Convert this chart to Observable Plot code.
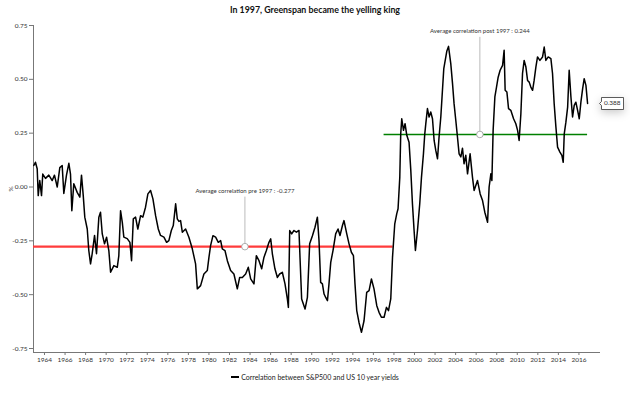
<!DOCTYPE html>
<html><head><meta charset="utf-8">
<script src="https://cdn.jsdelivr.net/npm/d3@7"></script>
<script src="https://cdn.jsdelivr.net/npm/@observablehq/plot@0.6"></script>
<style>
body{margin:0;background:#fff;font-family:Lato,"Noto Sans",sans-serif;}
#title{height:20px;line-height:20px;text-align:center;font-weight:bold;font-size:8.8px;color:#111;}
#chart{height:346px;}
#legend{height:22px;line-height:22px;text-align:center;font-size:7px;color:#222;}
#legend .sw{display:inline-block;width:8px;height:1.5px;background:#000;vertical-align:middle;margin-right:2px;position:relative;top:-1px;}
</style></head><body>
<div id="title">In 1997, Greenspan became the yelling king</div>
<div id="chart"></div>
<div id="legend"><span class="sw"></span>Correlation between S&amp;P500 and US 10 year yields</div>
<script>
const years = [1962.96,1963.12,1963.29,1963.39,1963.54,1963.71,1963.83,1964.10,1964.42,1964.75,1964.97,1965.24,1965.49,1965.72,1965.88,1966.14,1966.37,1966.53,1966.66,1966.85,1967.18,1967.44,1967.60,1967.77,1967.92,1968.16,1968.31,1968.48,1968.64,1968.87,1969.06,1969.29,1969.45,1969.62,1969.84,1970.04,1970.26,1970.43,1970.75,1971.08,1971.23,1971.40,1971.57,1971.72,1972.05,1972.31,1972.47,1972.64,1972.86,1973.08,1973.35,1973.57,1973.83,1974.06,1974.32,1974.55,1974.81,1975.07,1975.29,1975.62,1975.88,1976.10,1976.34,1976.53,1976.76,1976.92,1977.08,1977.24,1977.41,1977.73,1978.05,1978.38,1978.70,1978.87,1979.19,1979.51,1979.84,1980.00,1980.16,1980.39,1980.65,1980.91,1981.14,1981.30,1981.56,1981.79,1982.11,1982.43,1982.76,1982.99,1983.25,1983.57,1983.83,1984.06,1984.38,1984.61,1984.87,1985.13,1985.35,1985.59,1985.84,1986.01,1986.17,1986.42,1986.66,1986.88,1987.14,1987.40,1987.63,1987.73,1987.86,1988.05,1988.27,1988.51,1988.76,1988.86,1989.02,1989.35,1989.58,1989.80,1990.07,1990.32,1990.55,1990.71,1990.87,1991.04,1991.20,1991.36,1991.53,1991.68,1991.85,1992.07,1992.33,1992.56,1992.75,1992.99,1993.14,1993.41,1993.63,1993.86,1994.06,1994.21,1994.38,1994.60,1994.84,1995.09,1995.35,1995.58,1995.81,1996.06,1996.33,1996.55,1996.78,1997.04,1997.27,1997.47,1997.69,1997.86,1998.08,1998.27,1998.40,1998.57,1998.66,1998.76,1998.93,1999.08,1999.25,1999.47,1999.64,1999.80,1999.96,2000.09,2000.29,2000.51,2000.68,2000.87,2001.00,2001.10,2001.26,2001.42,2001.58,2001.75,2001.91,2002.07,2002.24,2002.39,2002.56,2002.85,2003.14,2003.31,2003.53,2003.70,2003.85,2004.02,2004.18,2004.34,2004.51,2004.67,2004.82,2004.99,2005.16,2005.41,2005.64,2005.80,2006.13,2006.39,2006.62,2006.84,2007.11,2007.26,2007.43,2007.53,2007.65,2007.82,2007.98,2008.14,2008.33,2008.57,2008.72,2008.82,2008.99,2009.15,2009.37,2009.64,2009.86,2010.03,2010.18,2010.35,2010.51,2010.67,2010.84,2011.00,2011.16,2011.32,2011.49,2011.64,2011.81,2011.97,2012.20,2012.46,2012.62,2012.78,2013.01,2013.27,2013.43,2013.59,2013.76,2013.92,2014.15,2014.34,2014.47,2014.57,2014.73,2014.90,2015.05,2015.22,2015.38,2015.54,2015.70,2015.87,2016.03,2016.19,2016.36,2016.51,2016.68,2016.84];
const correlation = [0.10,0.115,0.085,-0.04,0.03,-0.04,0.06,0.04,0.055,0.03,0.055,0.0,0.09,0.10,-0.03,0.055,0.11,0.06,-0.11,0.015,-0.025,-0.047,0.055,-0.04,-0.14,-0.195,-0.295,-0.357,-0.31,-0.225,-0.31,-0.14,-0.117,-0.218,-0.264,-0.233,-0.295,-0.396,-0.365,-0.373,-0.32,-0.11,-0.164,-0.233,-0.24,-0.257,-0.342,-0.148,-0.14,-0.195,-0.133,-0.14,-0.094,-0.032,-0.016,-0.055,-0.133,-0.195,-0.225,-0.233,-0.257,-0.249,-0.202,-0.179,-0.078,-0.148,-0.16,-0.156,-0.21,-0.195,-0.233,-0.287,-0.357,-0.473,-0.458,-0.404,-0.388,-0.327,-0.272,-0.226,-0.233,-0.257,-0.249,-0.287,-0.295,-0.342,-0.388,-0.404,-0.473,-0.42,-0.42,-0.404,-0.373,-0.427,-0.45,-0.319,-0.342,-0.38,-0.327,-0.295,-0.257,-0.241,-0.31,-0.38,-0.42,-0.404,-0.396,-0.45,-0.52,-0.559,-0.202,-0.218,-0.202,-0.21,-0.202,-0.327,-0.52,-0.567,-0.513,-0.264,-0.226,-0.187,-0.14,-0.249,-0.443,-0.45,-0.497,-0.513,-0.528,-0.45,-0.35,-0.295,-0.218,-0.195,-0.225,-0.179,-0.156,-0.218,-0.264,-0.303,-0.319,-0.45,-0.574,-0.629,-0.675,-0.621,-0.489,-0.481,-0.427,-0.473,-0.551,-0.582,-0.605,-0.605,-0.559,-0.574,-0.52,-0.327,-0.171,-0.125,-0.101,0.046,0.247,0.317,0.263,0.294,0.24,0.208,0.077,-0.078,-0.202,-0.295,-0.202,-0.078,0.046,0.154,0.247,0.294,0.364,0.325,0.348,0.317,0.216,0.17,0.131,0.232,0.325,0.55,0.63,0.653,0.573,0.48,0.387,0.309,0.232,0.154,0.14,0.18,0.108,0.147,0.061,0.154,0.046,-0.016,0.03,-0.032,-0.063,-0.117,-0.164,0.0,0.061,0.03,0.263,0.418,0.464,0.51,0.542,0.565,0.635,0.449,0.441,0.364,0.356,0.317,0.294,0.263,0.216,0.34,0.527,0.588,0.557,0.495,0.487,0.464,0.449,0.495,0.557,0.604,0.588,0.604,0.65,0.588,0.604,0.596,0.527,0.387,0.278,0.185,0.162,0.147,0.115,0.247,0.301,0.371,0.542,0.418,0.325,0.379,0.394,0.356,0.317,0.394,0.457,0.503,0.472,0.388];

const xTicks = [1964,1966,1968,1970,1972,1974,1976,1978,1980,1982,1984,1986,1988,1990,1992,1994,1996,1998,2000,2002,2004,2006,2008,2010,2012,2014,2016];
const yTicks = [-0.75,-0.5,-0.25,0,0.25,0.5,0.75];
const xDomain = [1962.93, 2018];
const yDomain = [-0.75, 0.75];

// average lines: pre 1997 and post 1997
const avgLabels = ["Average correlation pre 1997 : -0.277", "Average correlation post 1997 : 0.244"];
const avgValues = [-0.277, 0.244];
const avgStart = [1962.93, 1997.04];
const avgEnd = [1997.92, 2016.84];
// annotation callouts
const annoYears = [1983.5, 2006.36];
const annoLineTop = [-0.047, 0.695];
const annoTextY = [-0.02, 0.723];
const lastValue = [0.388];

const series = years.map((y, i) => ({year: y, value: correlation[i]}));
const avg = avgValues.map((v, i) => ({value: v, x1: avgStart[i], x2: avgEnd[i], ax: annoYears[i], top: annoLineTop[i], ty: annoTextY[i], label: avgLabels[i]}));

const chart = Plot.plot({
  width: 630, height: 346,
  marginTop: 5, marginBottom: 14, marginLeft: 33, marginRight: 31,
  insetBottom: 4,
  style: {fontFamily: "Lato, 'Noto Sans', sans-serif", fontSize: "6.5px", color: "#333", background: "#fff", overflow: "visible"},
  x: {domain: xDomain},
  y: {domain: yDomain},
  marks: [
    Plot.frame({anchor: "left", stroke: "#777"}),
    Plot.frame({anchor: "bottom", stroke: "#777"}),
    Plot.axisX({ticks: xTicks, tickFormat: d => String(d), tickSize: 3, tickPadding: 2, stroke: "#777", label: null}),
    Plot.axisY({ticks: yTicks, tickFormat: d => d.toFixed(2), tickSize: 4, tickPadding: 2, stroke: "#777", label: "%", labelAnchor: "center", labelOffset: 25, labelArrow: "none"}),
    Plot.ruleY([avg[0]], {y: "value", x1: "x1", x2: "x2", stroke: "#ff3b3b", strokeWidth: 2.2}),
    Plot.ruleY([avg[1]], {y: "value", x1: "x1", x2: "x2", stroke: "#008000", strokeWidth: 1.4}),
    Plot.line(series, {x: "year", y: "value", stroke: "#000", strokeWidth: 1.5, strokeLinejoin: "round"}),
    Plot.ruleX(avg, {x: "ax", y1: "value", y2: "top", stroke: "#bbb", strokeWidth: 1}),
    Plot.dot(avg, {x: "ax", y: "value", r: 3.3, stroke: "#999", fill: "white", strokeWidth: 0.8}),
    Plot.text(avg, {x: "ax", y: "ty", text: "label", fontSize: 6, fill: "#333"}),
    Plot.tip(lastValue, {y: d => d, frameAnchor: "right", anchor: "left", title: d => d.toFixed(3), fontSize: 6.5, textPadding: 2.5, pointerSize: 4, stroke: "#333", fill: "white", strokeWidth: 0.8})
  ]
});
document.getElementById("chart").appendChild(chart);
</script>
</body></html>
